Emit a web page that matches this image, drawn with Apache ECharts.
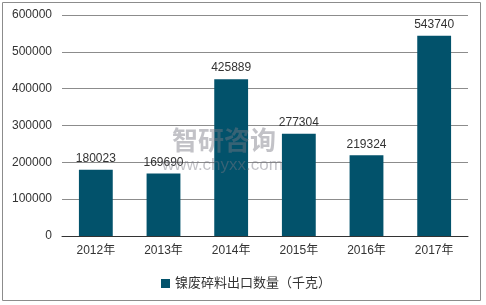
<!DOCTYPE html>
<html><head><meta charset="utf-8">
<script src="https://cdn.jsdelivr.net/npm/echarts@6/dist/echarts.min.js"></script>
<style>html,body{margin:0;padding:0;background:#fff}#c{width:486px;height:305px}</style>
</head><body><div id="c"></div>
<script>
const categories = ['2012年','2013年','2014年','2015年','2016年','2017年'];
const values = [180023,169690,425889,277304,219324,543740];
const seriesName = '镍废碎料出口数量（千克）';
const chart = echarts.init(document.getElementById('c'), null, {renderer:'canvas'});
chart.setOption({
  animation:false,
  textStyle:{fontFamily:'Arial, "Liberation Sans", "Noto Sans CJK SC", sans-serif'},
  graphic:[
    {type:'rect',shape:{x:2.5,y:2.5,width:478,height:298},style:{fill:'none',stroke:'#8c8c8c',lineWidth:1},z:-1},
    {type:'text',left:172,top:127,style:{text:'智研咨询',fill:'rgba(120,120,130,0.45)',font:'bold 26px "Noto Sans CJK SC"'},z:10},
    {type:'text',left:162,top:157,style:{text:'www.chyxx.com',fill:'rgba(120,120,130,0.45)',font:'17px Arial'},z:10}
  ],
  grid:{left:62,right:18,top:15,bottom:69},
  legend:{bottom:10,left:156,itemWidth:9,itemHeight:9,icon:'rect',itemGap:5,
    textStyle:{fontSize:13,color:'#333'},data:[seriesName]},
  xAxis:{type:'category',data:categories,
    axisLine:{lineStyle:{color:'#333'}},axisTick:{show:false},
    axisLabel:{color:'#333',fontSize:12,margin:9}},
  yAxis:{type:'value',min:0,max:600000,interval:100000,
    axisLine:{show:false},axisTick:{show:false},
    axisLabel:{color:'#333',fontSize:12,margin:10,formatter:v=>String(v)},
    splitLine:{lineStyle:{color:'#8c8c8c'}}},
  series:[{name:seriesName,type:'bar',data:values,barWidth:'50%',
    itemStyle:{color:'#02526b'},
    label:{show:true,position:'top',distance:5,color:'#333',fontSize:12}}]
});
</script></body></html>
